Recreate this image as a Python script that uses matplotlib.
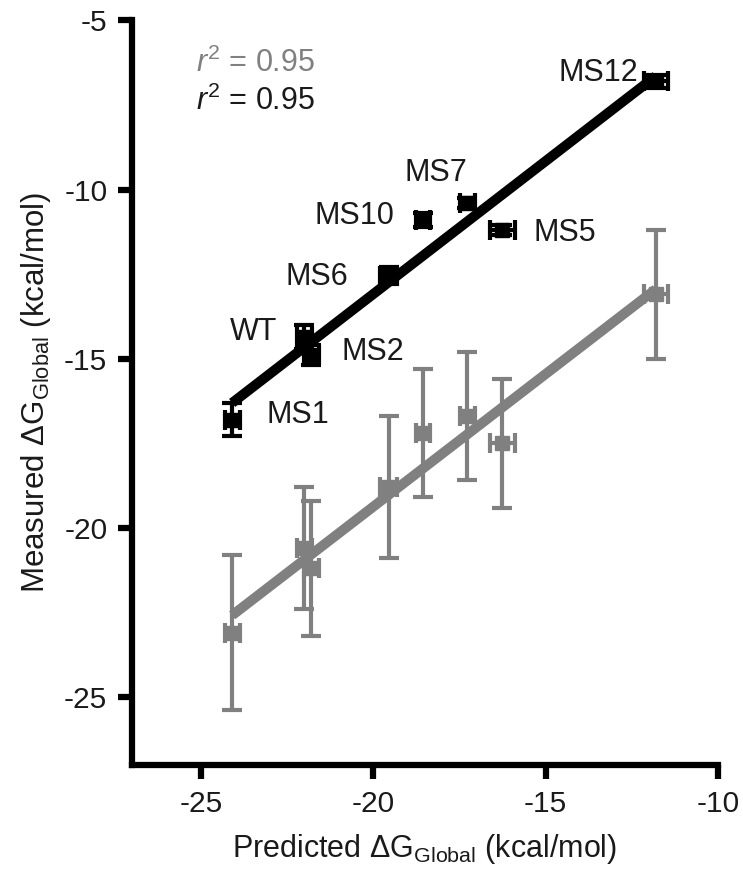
import matplotlib
matplotlib.use("Agg")
import matplotlib.pyplot as plt
import numpy as np

plt.rcParams['font.family'] = ['Liberation Sans', 'DejaVu Sans']
plt.rcParams['mathtext.fontset'] = 'custom'
plt.rcParams['mathtext.rm'] = 'Liberation Sans'
plt.rcParams['mathtext.it'] = 'Liberation Sans:italic'
plt.rcParams['axes.unicode_minus'] = False

# variants and predicted dG (x)
names = ['WT', 'MS1', 'MS2', 'MS5', 'MS6', 'MS7', 'MS10', 'MS12']
predicted = [-22.0, -24.1, -21.8, -16.25, -19.55, -17.27, -18.56, -11.8]
predicted_err = [0.22, 0.22, 0.22, 0.35, 0.25, 0.22, 0.2, 0.35]

# measured dG, black series
measured_black = [-14.35, -16.8, -14.9, -11.2, -12.55, -10.4, -10.9, -6.8]
measured_black_err = [0.35, 0.5, 0.3, 0.15, 0.25, 0.15, 0.2, 0.2]

# measured dG, gray series
measured_gray = [-20.6, -23.1, -21.2, -17.5, -18.8, -16.7, -17.2, -13.1]
measured_gray_err = [1.8, 2.3, 2.0, 1.9, 2.1, 1.9, 1.9, 1.9]

label_pos = {'WT': (-22.8, -14.2, 'right'), 'MS1': (-23.1, -16.67, 'left'),
             'MS2': (-20.92, -14.8, 'left'), 'MS5': (-15.35, -11.28, 'left'),
             'MS6': (-20.72, -12.6, 'right'), 'MS7': (-18.18, -9.5, 'center'),
             'MS10': (-19.4, -10.79, 'right'), 'MS12': (-12.3, -6.55, 'right')}

gray = '#808080'
txt = '#1a1a1a'
fig = plt.figure(figsize=(7.43, 8.86), dpi=100)
ax = fig.add_axes([0.178, 0.137, 0.788, 0.84])

x = np.array(predicted)
for yv, ye, col in [(measured_gray, measured_gray_err, gray),
                    (measured_black, measured_black_err, 'black')]:
    yv = np.array(yv)
    k, b = np.polyfit(x, yv, 1)
    xs = np.array([x.min(), x.max()])
    ax.plot(xs, k * xs + b, color=col, lw=7.2, solid_capstyle='butt', zorder=2)
    ax.errorbar(x, yv, yerr=ye, xerr=predicted_err, fmt='s', color=col,
                mfc=col, mec=col, ms=10.5, elinewidth=3, capsize=7,
                capthick=3, zorder=3)

for n, (tx, ty, ha) in label_pos.items():
    ax.text(tx, ty, n, fontsize=22, ha=ha, va='center', color=txt)

ax.text(-25.15, -6.26, '$r^2$ = 0.95', fontsize=22, color=gray, va='center')
ax.text(-25.15, -7.39, '$r^2$ = 0.95', fontsize=22, color=txt, va='center')

ax.set_xlim(-27, -10)
ax.set_ylim(-27, -5)
ax.set_xticks([-25, -20, -15, -10])
ax.set_yticks([-25, -20, -15, -10, -5])
for s in ['top', 'right']:
    ax.spines[s].set_visible(False)
for s in ['left', 'bottom']:
    ax.spines[s].set_linewidth(4.5)
ax.tick_params(width=4.5, length=10, labelsize=21.5, pad=8, labelcolor=txt)
ax.set_xlabel(r'Predicted $\Delta$G$_{\mathrm{Global}}$ (kcal/mol)', fontsize=22,
              labelpad=10, color=txt)
ax.set_ylabel(r'Measured $\Delta$G$_{\mathrm{Global}}$ (kcal/mol)', fontsize=22.5,
              labelpad=8, color=txt)

fig.savefig('out.png', dpi=100)
